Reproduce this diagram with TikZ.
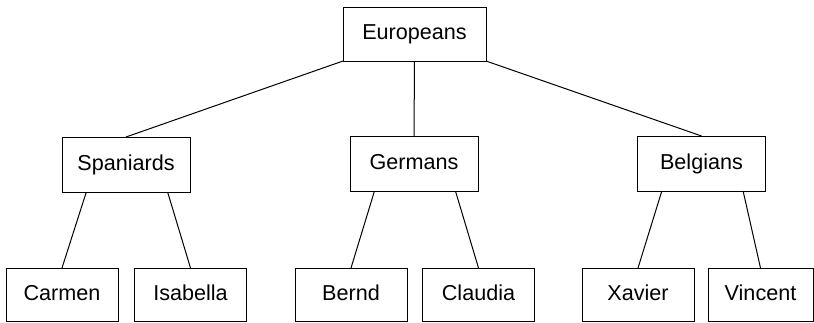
\documentclass[tikz,border=0pt]{standalone}
\usepackage{fontspec}
\setmainfont{Liberation Sans}
\usetikzlibrary{calc}

\begin{document}
\begin{tikzpicture}[x = 0.5pt, y = -0.5pt, line width = 0.5pt]

    \tikzset{groupbox/.style = {draw, rectangle, inner sep = 0pt, outer sep = 0pt,
        text height = 7.8pt, text depth = 2.2pt,
        font = \fontsize{10.8}{12}\selectfont
        }
    }
    \tikzset{rootbox/.style = {groupbox, minimum width = 71.5pt, minimum height = 27pt}}
    \tikzset{nationbox/.style = {groupbox, minimum width = 64pt, minimum height = 27.5pt}}
    \tikzset{namebox/.style = {groupbox, minimum width = 56pt, minimum height = 26.5pt}}

    \useasboundingbox (0,0) rectangle (814,322);

    % top
    \node (eu) [rootbox] at (414.5,34) {Europeans};

    % nations
    \node (sp) [nationbox] at (126,164.5) {Spaniards};
    \node (ge) [nationbox] at (414,164) {Germans};
    \node (be) [nationbox] at (701.5,163.5) {Belgians};

    % people
    \node (ca) [namebox] at (62,294.5) {Carmen};
    \node (is) [namebox] at (190.5,294.5) {Isabella};
    \node (bd) [namebox] at (351,294.5) {Bernd};
    \node (cl) [namebox] at (478.5,294.5) {Claudia};
    \node (xa) [namebox] at (638,294.5) {Xavier};
    \node (vi) [namebox, minimum width = 52.5pt] at (760.5,294.5) {Vincent};

    \draw
    (eu.south west) -- (sp.north)
    (eu.south) -- (ge.north)
    (eu.south east) -- (be.north)
    ;

    \foreach \p/\l/\r in {sp/ca/is, ge/bd/cl, be/xa/vi}{
        \draw ($(\p.south)!0.62!(\p.south west)$) -- (\l.north);
        \draw ($(\p.south)!0.65!(\p.south east)$) -- (\r.north);
    }

\end{tikzpicture}
\end{document}
